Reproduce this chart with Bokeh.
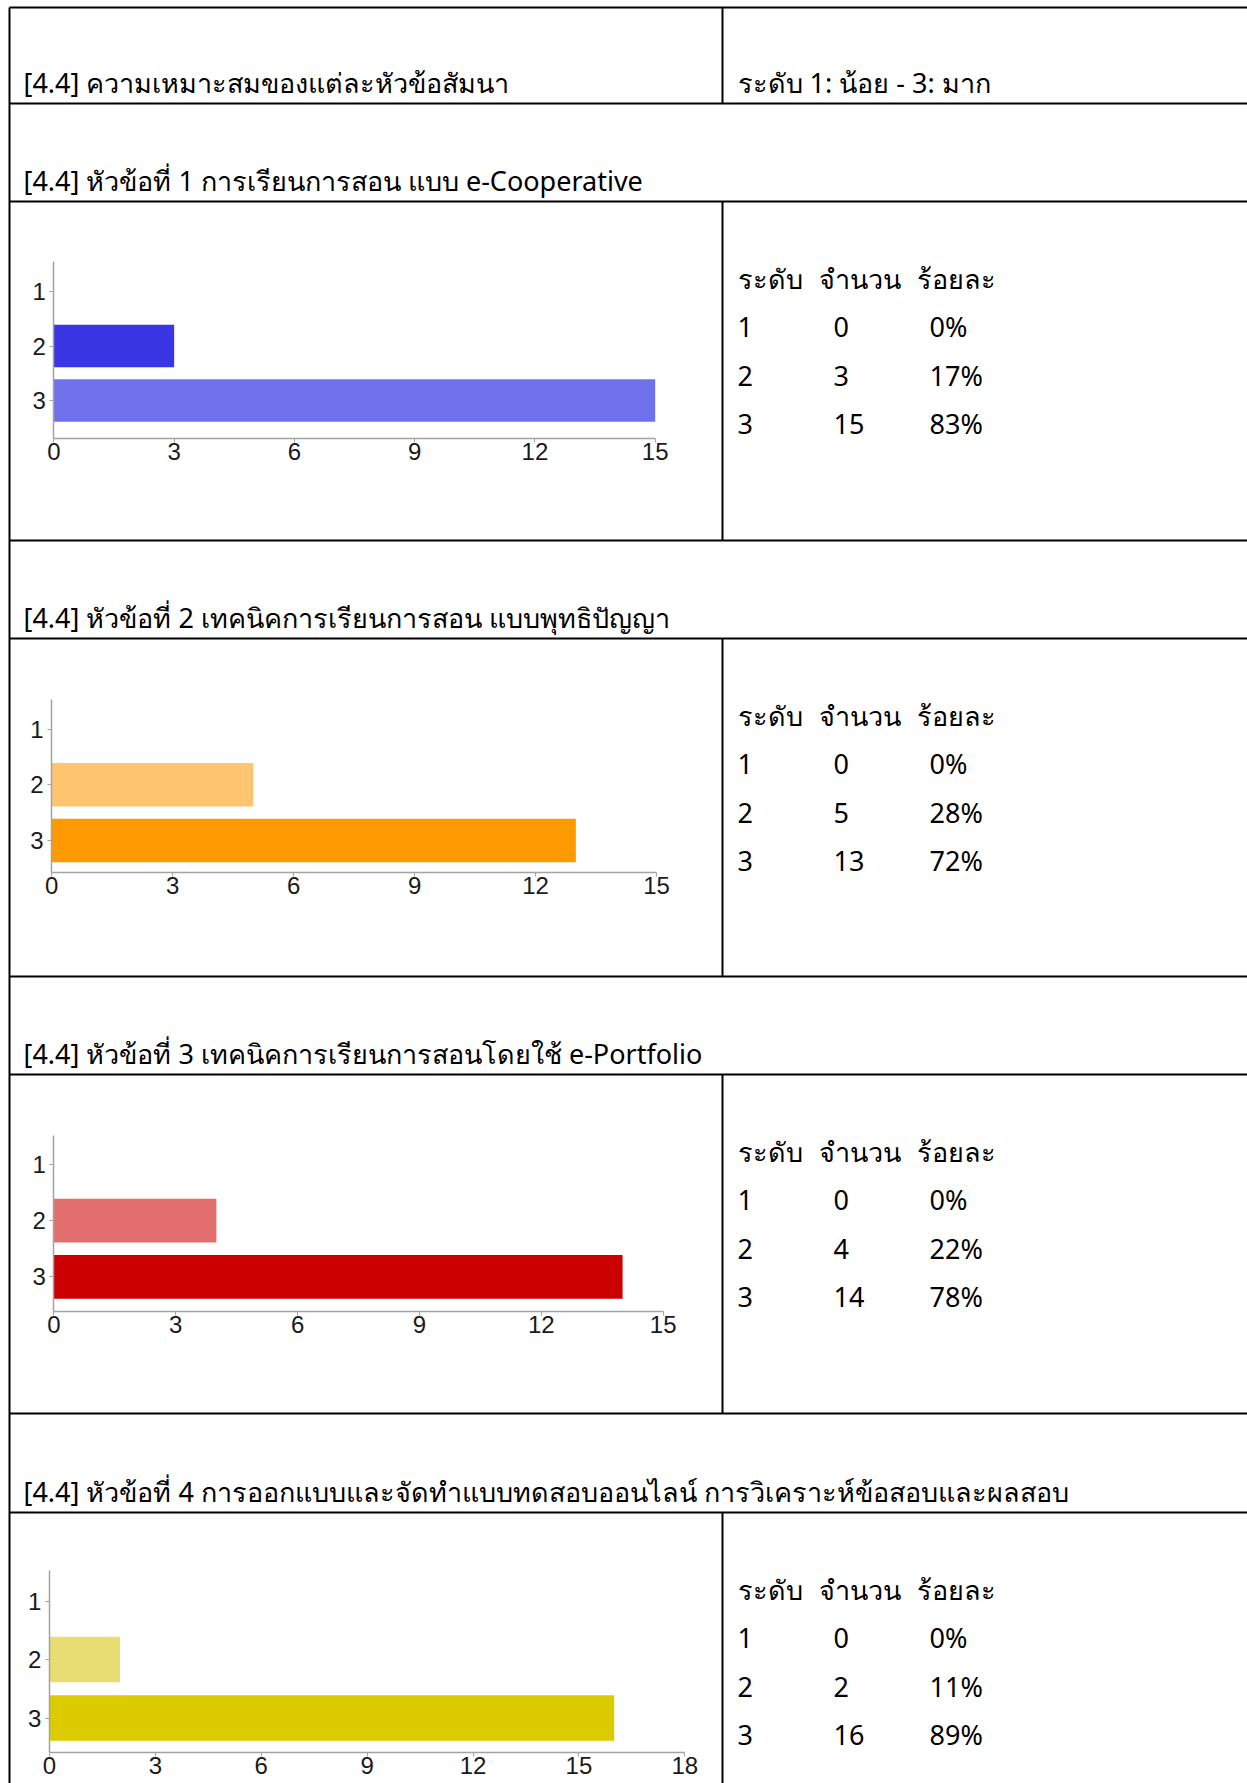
from bokeh.plotting import figure
from bokeh.models import Range1d, LinearAxis, FixedTicker, ColumnDataSource
from bokeh.core.properties import value
from bokeh.embed import file_html
from bokeh.resources import INLINE

# ---------------- data ----------------
header_left = "[4.4] ความเหมาะสมของแต่ละหัวข้อสัมนา"
header_right = "ระดับ 1: น้อย - 3: มาก"
titles = [
    "[4.4] หัวข้อที่ 1 การเรียนการสอน แบบ e-Cooperative",
    "[4.4] หัวข้อที่ 2 เทคนิคการเรียนการสอน แบบพุทธิปัญญา",
    "[4.4] หัวข้อที่ 3 เทคนิคการเรียนการสอนโดยใช้ e-Portfolio",
    "[4.4] หัวข้อที่ 4 การออกแบบและจัดทำแบบทดสอบออนไลน์ การวิเคราะห์ข้อสอบและผลสอบ",
]
table_head = ["ระดับ", "จำนวน", "ร้อยละ"]
levels = [1, 2, 3]
level_labels = ["1", "2", "3"]
counts_1 = [0, 3, 15]
counts_2 = [0, 5, 13]
counts_3 = [0, 4, 14]
counts_4 = [0, 2, 16]
percent_1 = ["0%", "17%", "83%"]
percent_2 = ["0%", "28%", "72%"]
percent_3 = ["0%", "22%", "78%"]
percent_4 = ["0%", "11%", "89%"]
x_ticks_1 = [0, 3, 6, 9, 12, 15]
x_ticks_2 = [0, 3, 6, 9, 12, 15]
x_ticks_3 = [0, 3, 6, 9, 12, 15]
x_ticks_4 = [0, 3, 6, 9, 12, 15, 18]

counts_all = [counts_1, counts_2, counts_3, counts_4]
percent_all = [percent_1, percent_2, percent_3, percent_4]
ticks_all = [x_ticks_1, x_ticks_2, x_ticks_3, x_ticks_4]

# ---------------- styles / layout ----------------
bar_colors = [
    ["#3a36e4", "#3a36e4", "#6f70ec"],
    ["#ffc46f", "#ffc46f", "#ff9900"],
    ["#e36e6e", "#e36e6e", "#cc0000"],
    ["#e8dd72", "#e8dd72", "#dbcb00"],
]
W, H = 1247, 1783
OX, OY = 0, 0
TABLE_LEFT = 9
COL_SPLIT = 722
TABLE_RIGHT = 1270
TABLE_BOTTOM = 1800
row_edges = [7, 103, 201, 540, 638, 976, 1074, 1413, 1512]
chart_geom = [
    dict(x0=53.4, x1=654.7, y1=291.0, dy=54.5, ytop=261.0, yaxis=437.6),
    dict(x0=51.2, x1=656.0, y1=728.6, dy=55.7, ytop=699.0, yaxis=871.8),
    dict(x0=53.4, x1=662.7, y1=1164.0, dy=56.2, ytop=1134.5, yaxis=1310.6),
    dict(x0=48.9, x1=684.3, y1=1600.5, dy=58.5, ytop=1570.0, yaxis=1751.7),
]
THAI_FONT = "Noto Sans"
TEXT_SIZE = "27px"
TICK_FONT = "Liberation Sans"
TICK_SIZE = "24px"
AXIS_GRAY = "#a3a3a3"

p = figure(width=W, height=H, x_range=Range1d(OX, OX + W), y_range=Range1d(OY + H, OY),
           x_axis_type=None, y_axis_type=None, output_backend="svg",
           toolbar_location=None, min_border=0)
p.grid.visible = False
p.outline_line_color = None
p.background_fill_color = "white"
p.border_fill_color = "white"

# ---------------- table frame ----------------
hx0, hx1, hy = [], [], []
for y in row_edges:
    hx0.append(TABLE_LEFT)
    hx1.append(TABLE_RIGHT)
    hy.append(y)
p.segment(x0=hx0, x1=hx1, y0=hy, y1=hy, line_color="black", line_width=2)
vx, vy0, vy1 = [TABLE_LEFT], [row_edges[0]], [TABLE_BOTTOM]
mid_spans = [(row_edges[0], row_edges[1]), (row_edges[2], row_edges[3]),
             (row_edges[4], row_edges[5]), (row_edges[6], row_edges[7]),
             (row_edges[8], TABLE_BOTTOM)]
for a, b in mid_spans:
    vx.append(COL_SPLIT)
    vy0.append(a)
    vy1.append(b)
p.segment(x0=vx, x1=vx, y0=vy0, y1=vy1, line_color="black", line_width=2)

# ---------------- texts ----------------
title_bottoms = [row_edges[1], row_edges[2], row_edges[4], row_edges[6], row_edges[8]]
tx = [23, 737] + [23] * 4
ty = [title_bottoms[0] - 21, title_bottoms[0] - 21] + [b - 21 for b in title_bottoms[1:]]
tt = [header_left, header_right] + titles
p.text(x=tx, y=ty, text=tt, text_font=value(THAI_FONT), text_font_size=TEXT_SIZE,
       text_baseline="middle", text_align="left", text_color="black")

chart_tops = [row_edges[2], row_edges[4], row_edges[6], row_edges[8]]
row_offsets = [76.5, 125, 174, 222]
head_x = [737, 818, 916]
val_x = [737, 833, 929]
cx, cy, ct = [], [], []
for k, top in enumerate(chart_tops):
    for j, h in enumerate(table_head):
        cx.append(head_x[j]); cy.append(top + row_offsets[0]); ct.append(h)
    for i in range(3):
        yy = top + row_offsets[i + 1]
        for j, s in enumerate([level_labels[i], str(counts_all[k][i]), percent_all[k][i]]):
            cx.append(val_x[j]); cy.append(yy); ct.append(s)
p.text(x=cx, y=cy, text=ct, text_font=value(THAI_FONT), text_font_size=TEXT_SIZE,
       text_baseline="middle", text_align="left", text_color="black")

# ---------------- bar charts ----------------
for k, g in enumerate(chart_geom):
    ticks = ticks_all[k]
    xmax = ticks[-1]
    sx = (g["x1"] - g["x0"]) / xmax
    xs = (OX - g["x0"]) / sx
    xe = (OX + W - g["x0"]) / sx
    ys = 1 + (OY + H - g["y1"]) / g["dy"]
    ye = 1 + (OY - g["y1"]) / g["dy"]
    xn, yn = f"cx{k}", f"cy{k}"
    p.extra_x_ranges[xn] = Range1d(xs, xe)
    p.extra_y_ranges[yn] = Range1d(ys, ye)
    src = ColumnDataSource(dict(level=levels, count=counts_all[k], color=bar_colors[k]))
    p.hbar(y="level", left=0, right="count", height=0.78, fill_color="color",
           line_color=None, source=src, x_range_name=xn, y_range_name=yn)
    c_axis = 1 + (g["yaxis"] - g["y1"]) / g["dy"]
    c_top = 1 + (g["ytop"] - g["y1"]) / g["dy"]
    xa = LinearAxis(x_range_name=xn, y_range_name=yn, fixed_location=c_axis,
                    bounds=(0, xmax), ticker=FixedTicker(ticks=ticks, minor_ticks=[]))
    ya = LinearAxis(x_range_name=xn, y_range_name=yn, fixed_location=0,
                    bounds=(c_top, c_axis), ticker=FixedTicker(ticks=levels, minor_ticks=[]))
    for ax, so in ((xa, 1), (ya, 4)):
        ax.axis_line_color = AXIS_GRAY
        ax.axis_line_width = 1.5
        ax.major_tick_line_color = AXIS_GRAY
        ax.major_tick_out = 4
        ax.major_tick_in = 0
        ax.minor_tick_out = 0
        ax.minor_tick_in = 0
        ax.major_label_text_font = TICK_FONT
        ax.major_label_text_font_size = TICK_SIZE
        ax.major_label_text_color = "#1a1a1a"
        ax.major_label_standoff = so
    p.add_layout(xa, "below")
    p.add_layout(ya, "left")

open("out.html", "w").write(file_html(p, INLINE))
